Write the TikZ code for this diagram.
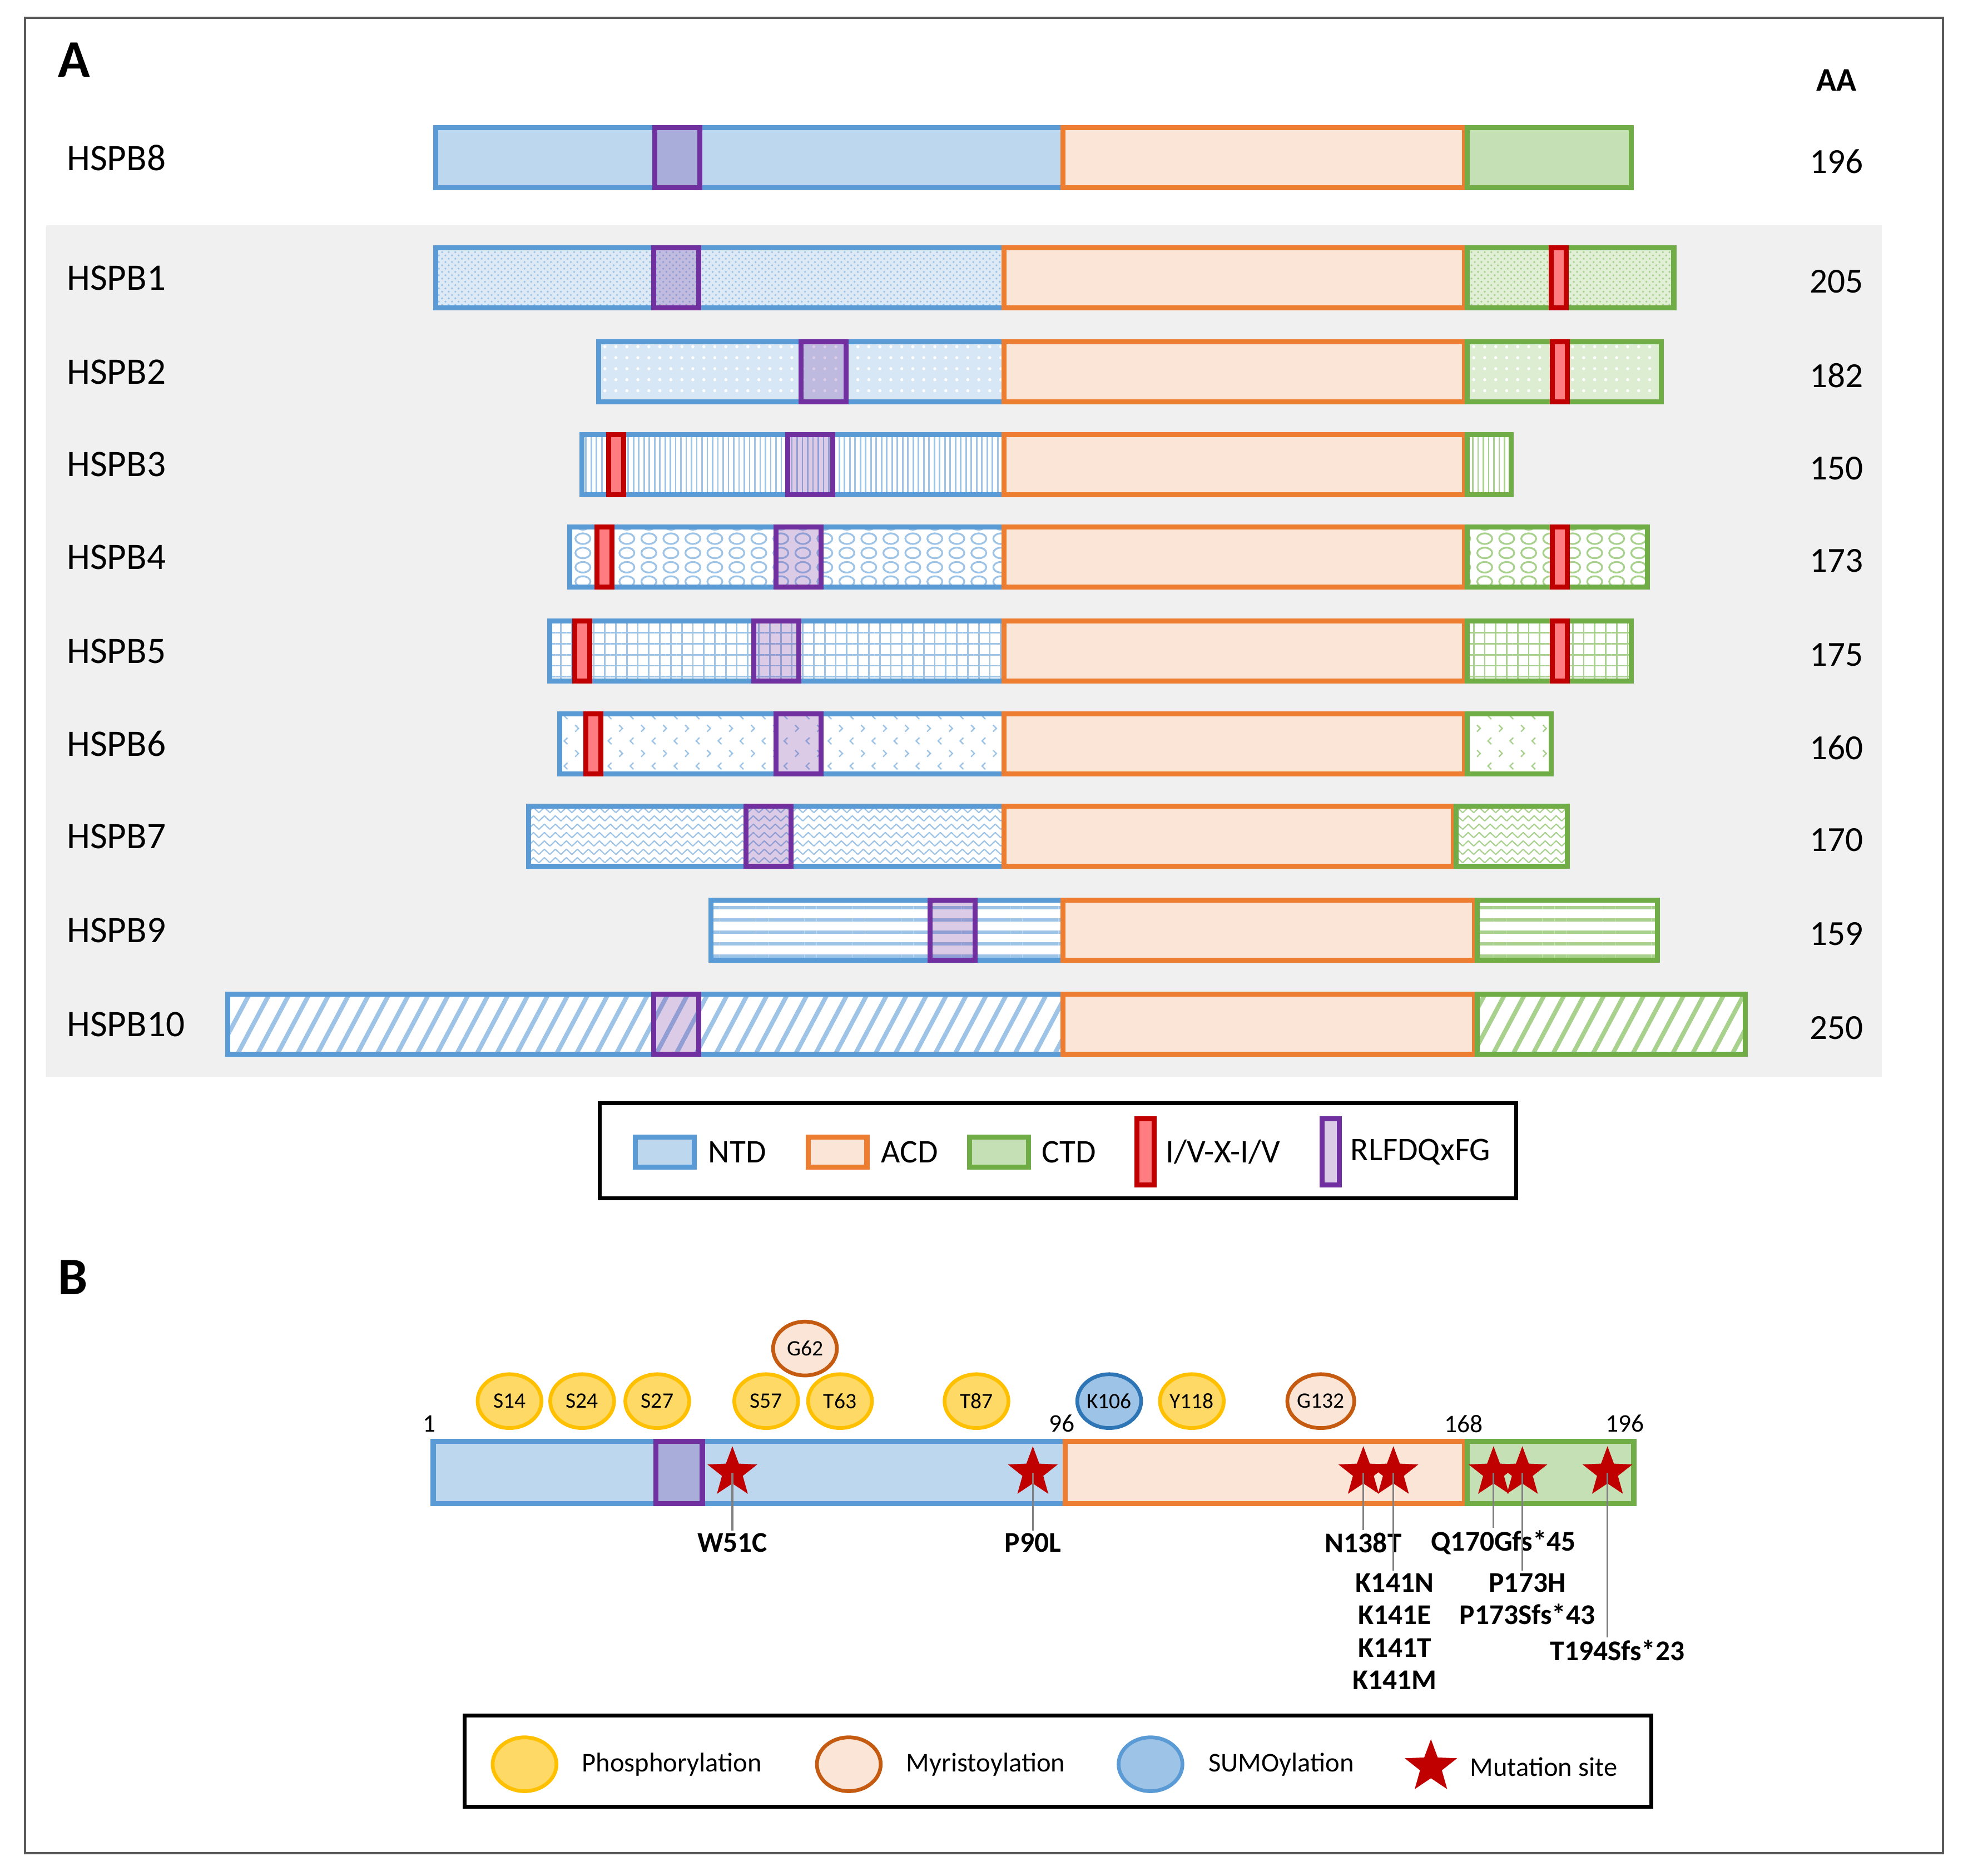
\documentclass[tikz,border=0pt]{standalone}
\usepackage{fontspec}
\setmainfont{Carlito}
\usetikzlibrary{shapes.geometric, patterns, patterns.meta, positioning}

\definecolor{ntdfill}{HTML}{BDD7EE}
\definecolor{ntdline}{HTML}{5B9BD5}
\definecolor{ntdpat}{HTML}{9DC3E6}
\definecolor{acdfill}{HTML}{FBE5D6}
\definecolor{acdline}{HTML}{ED7D31}
\definecolor{ctdfill}{HTML}{C5E0B4}
\definecolor{ctdline}{HTML}{70AD47}
\definecolor{ctdpat}{HTML}{A9D18E}
\definecolor{ivline}{HTML}{C00000}
\definecolor{ivfill}{HTML}{FF7C80}
\definecolor{rlline}{HTML}{7030A0}
\definecolor{phosfill}{HTML}{FFD966}
\definecolor{phosline}{HTML}{FFC000}
\definecolor{myrline}{HTML}{C55A11}
\definecolor{sumofill}{HTML}{9DC3E6}
\definecolor{sumoline}{HTML}{2E75B6}
\definecolor{panel}{HTML}{F0F0F0}

\tikzdeclarepattern{
  name=bubbles,
  type=uncolored,
  bottom left={(-.1pt,-.1pt)},
  top right={(10.1pt,6.6pt)},
  tile size={(10pt,6.5pt)},
  code={
    \tikzset{x=1pt,y=1pt}
    \draw[line width=.8] (5,3.25) ellipse [x radius=3.4, y radius=2.4];
  }
}
\tikzdeclarepattern{
  name=chevrons,
  type=uncolored,
  bottom left={(-.1pt,-.1pt)},
  top right={(10.1pt,11.5pt)},
  tile size={(10pt,11.4pt)},
  code={
    \tikzset{x=1pt,y=1pt}
    \draw[line width=.6] (1.5,7) -- (3,8.5) -- (1.5,10);
    \draw[line width=.6] (8,1.3) -- (6.5,2.8) -- (8,4.3);
  }
}
\tikzdeclarepattern{
  name=zigzag,
  type=uncolored,
  bottom left={(-.5pt,-.5pt)},
  top right={(5.5pt,4pt)},
  tile size={(5pt,3.8pt)},
  code={
    \tikzset{x=1pt,y=1pt}
    \draw[line width=.55, line join=round] (0,.6) -- (2.5,3) -- (5,.6);
  }
}

\tikzset{
  bar/.style={line width=2.3pt},
  ntdbox/.style={bar, draw=ntdline, fill=ntdfill},
  acdbox/.style={bar, draw=acdline, fill=acdfill},
  ctdbox/.style={bar, draw=ctdline, fill=ctdfill},
  ivbox/.style={bar, draw=ivline, fill=ivfill},
  rlbox/.style={bar, draw=rlline, fill=rlline, fill opacity=0.25},
  pat1/.style={pattern=crosshatch dots, pattern color=#1},
  pat2/.style={pattern={Dots[radius=0.7pt, distance=5pt]}, pattern color=white},
  pat3/.style={pattern={Lines[angle=90, distance=2.4pt, line width=0.7pt]}, pattern color=#1},
  pat4/.style={pattern=bubbles, pattern color=#1},
  pat5/.style={pattern={Hatch[angle=0, distance=5pt, line width=0.7pt]}, pattern color=#1},
  pat6/.style={pattern=chevrons, pattern color=#1},
  pat7/.style={pattern=zigzag, pattern color=#1},
  pat9/.style={pattern={Lines[angle=0, distance=5.5pt, line width=1.5pt]}, pattern color=#1},
  pat10/.style={pattern={Lines[angle=62, distance=8pt, line width=2pt]}, pattern color=#1},
  rowlab/.style={anchor=west, inner sep=0pt, font=\fontsize{17}{20}\selectfont},
  rownum/.style={inner sep=0pt, font=\fontsize{16}{19}\selectfont},
  legframe/.style={draw=black, line width=1.7pt},
  legA/.style={inner sep=0pt, font=\fontsize{15}{18}\selectfont},
  legB/.style={inner sep=0pt, font=\fontsize{12.3}{15}\selectfont},
  ptm/.style={ellipse, line width=1.7pt, inner sep=0pt, minimum width=1.02cm, minimum height=0.86cm, font=\fontsize{10}{12}\selectfont},
  phos/.style={ptm, draw=phosline, fill=phosfill},
  myr/.style={ptm, draw=myrline, fill=acdfill},
  sumo/.style={ptm, draw=sumoline, fill=sumofill},
  mut/.style={star, star points=5, star point ratio=2.4, fill=ivline, inner sep=0pt, minimum size=0.84cm},
  mutlab/.style={inner sep=1pt, align=center, font=\fontsize{13}{14.8}\selectfont\bfseries},
  mutline/.style={draw=black!50, line width=0.8pt},
  poslab/.style={inner sep=0pt, font=\fontsize{11.5}{14}\selectfont},
}

\begin{document}
\begin{tikzpicture}[x=0.02cm, y=-0.02cm]
  \useasboundingbox (0,0) rectangle (1568,1498);
  \draw[draw=black!65, line width=1pt] (20,14) rectangle (1552,1480);
  \fill[panel] (37,180) rectangle (1503,860);

  \node (A) [anchor=west, inner sep=0pt, font=\fontsize{24}{28}\selectfont\bfseries] at (46,48) {A};
  \node (AA) [inner sep=0pt, font=\fontsize{15}{18}\selectfont\bfseries] at (1467,64) {AA};

  \path[ntdbox] (348,102) rectangle (849,150);
  \path[acdbox] (849,102) rectangle (1170,150);
  \path[ctdbox] (1172,102) rectangle (1303,150);
  \path[rlbox] (523,102) rectangle (559,150);
  \node (HSPB8) [rowlab] at (53,126) {HSPB8};
  \node (aa8) [rownum] at (1467,129) {196};

  \foreach \lab/\yc/\ns/\as/\cs/\ce/\px/\aa/\n/\bg in {
      HSPB1/222/346/802/1172/1339/520/205/1/35,
      HSPB2/297/476/802/1172/1329/638/182/2/40,
      HSPB3/371/463/802/1172/1209/627/150/3/0,
      HSPB4/445/453/802/1172/1318/618/173/4/0,
      HSPB5/520/437/802/1172/1305/600/175/5/0,
      HSPB6/594/445/802/1172/1241/618/160/6/0,
      HSPB7/668/420/802/1163/1254/594/170/7/0,
      HSPB9/743/566/849/1180/1326/741/159/9/0,
      HSPB10/818/180/849/1180/1396/520/250/10/0}
  {
    \path[bar, draw=ntdline, preaction={fill=ntdpat!\bg}, pat\n=ntdpat] (\ns+2,\yc-24) rectangle (\as,\yc+24);
    \path[acdbox] (\as,\yc-24) rectangle (\cs-2,\yc+24);
    \path[bar, draw=ctdline, preaction={fill=ctdpat!\bg}, pat\n=ctdpat] (\cs,\yc-24) rectangle (\ce-2,\yc+24);
    \path[rlbox] (\px+2,\yc-24) rectangle (\px+38,\yc+24);
    \node (\lab) [rowlab] at (53,\yc) {\lab};
    \node (aa\n) [rownum] at (1467,\yc+3) {\aa};
  }
  \foreach \yc/\rx in {222/1237, 297/1238, 371/484, 445/475, 445/1238, 520/457, 520/1238, 594/466}
    \path[ivbox] (\rx+2,\yc-24) rectangle (\rx+14,\yc+24);

  \draw[legframe] (479,881) rectangle (1211,957);
  \node (swNTD) [ntdbox, minimum width=0.94cm, minimum height=0.48cm] at (531,920) {};
  \node (lNTD) [legA, right=0.18cm of swNTD] {NTD};
  \node (swACD) [acdbox, minimum width=0.94cm, minimum height=0.48cm] at (669,920) {};
  \node (lACD) [legA, right=0.18cm of swACD] {ACD};
  \node (swCTD) [ctdbox, minimum width=0.94cm, minimum height=0.48cm] at (798,920) {};
  \node (lCTD) [legA, right=0.17cm of swCTD] {CTD};
  \node (swIV) [ivbox, minimum width=0.28cm, minimum height=1.06cm] at (915,920) {};
  \node (lIV) [legA, right=0.14cm of swIV] {I/V-X-I/V};
  \node (swRL) [rlbox, minimum width=0.28cm, minimum height=1.06cm] at (1063,920) {};
  \node (lRL) [legA, right=0.13cm of swRL] {RLFDQxFG};

  \node (B) [anchor=west, inner sep=0pt, font=\fontsize{24}{28}\selectfont\bfseries] at (46,1020) {B};

  \node (G62) [myr] at (643,1077) {G62};
  \node (S14) [phos] at (407,1119) {S14};
  \node (S24) [phos] at (465,1119) {S24};
  \node (S27) [phos] at (525,1119) {S27};
  \node (S57) [phos] at (612,1119) {S57};
  \node (T63) [phos] at (671,1119) {T63};
  \node (T87) [phos] at (780,1119) {T87};
  \node (K106) [sumo] at (886,1119) {K106};
  \node (Y118) [phos] at (952,1119) {Y118};
  \node (G132) [myr] at (1055,1119) {G132};

  \node (p1) [poslab] at (343,1137) {1};
  \node (p96) [poslab] at (848,1137) {96};
  \node (p168) [poslab] at (1169,1137) {168};
  \node (p196) [poslab] at (1298,1137) {196};

  \path[ntdbox] (346,1151) rectangle (851,1201);
  \path[acdbox] (851,1151) rectangle (1170,1201);
  \path[ctdbox] (1172,1151) rectangle (1305,1201);
  \path[rlbox] (524,1151) rectangle (561,1201);

  \node (m51) [mut] at (585,1176) {};
  \node (m90) [mut] at (825,1176) {};
  \node (m138) [mut] at (1089,1176) {};
  \node (m141) [mut] at (1113,1176) {};
  \node (m170) [mut] at (1193,1176) {};
  \node (m173) [mut] at (1216,1176) {};
  \node (m194) [mut] at (1284,1176) {};

  \node (lW51C) [mutlab] at (585,1232) {W51C};
  \node (lP90L) [mutlab] at (825,1232) {P90L};
  \node (lN138T) [mutlab] at (1089,1232) {N138T};
  \node (lK141) [mutlab] at (1114,1303) {K141N\\K141E\\K141T\\K141M};
  \node (lQ170) [mutlab] at (1201,1232) {Q170Gfs*45};
  \node (lP173) [mutlab] at (1220,1277) {P173H\\P173Sfs*43};
  \node (lT194) [mutlab] at (1292,1318) {T194Sfs*23};

  \draw[mutline] (m51.center) -- (m51 |- lW51C.north);
  \draw[mutline] (m90.center) -- (m90 |- lP90L.north);
  \draw[mutline] (m138.center) -- (m138 |- lN138T.north);
  \draw[mutline] (m141.center) -- (m141 |- lK141.north);
  \draw[mutline] (m170.center) -- (m170 |- lQ170.north);
  \draw[mutline] (m173.center) -- (m173 |- lP173.north);
  \draw[mutline] (m194.center) -- (m194 |- lT194.north);

  \draw[legframe] (371,1370) rectangle (1319,1443);
  \node (kPhos) [phos] at (419,1409) {};
  \node (tPhos) [legB, right=0.37cm of kPhos] {Phosphorylation};
  \node (kMyr) [myr] at (678,1409) {};
  \node (tMyr) [legB, right=0.37cm of kMyr] {Myristoylation};
  \node (kSumo) [sumo, draw=ntdline] at (919,1409) {};
  \node (tSumo) [legB, right=0.38cm of kSumo] {SUMOylation};
  \node (kMut) [mut, minimum size=0.88cm] at (1143,1411) {};
  \node (tMut) [legB, right=0.36cm of kMut] {Mutation site};
\end{tikzpicture}
\end{document}
